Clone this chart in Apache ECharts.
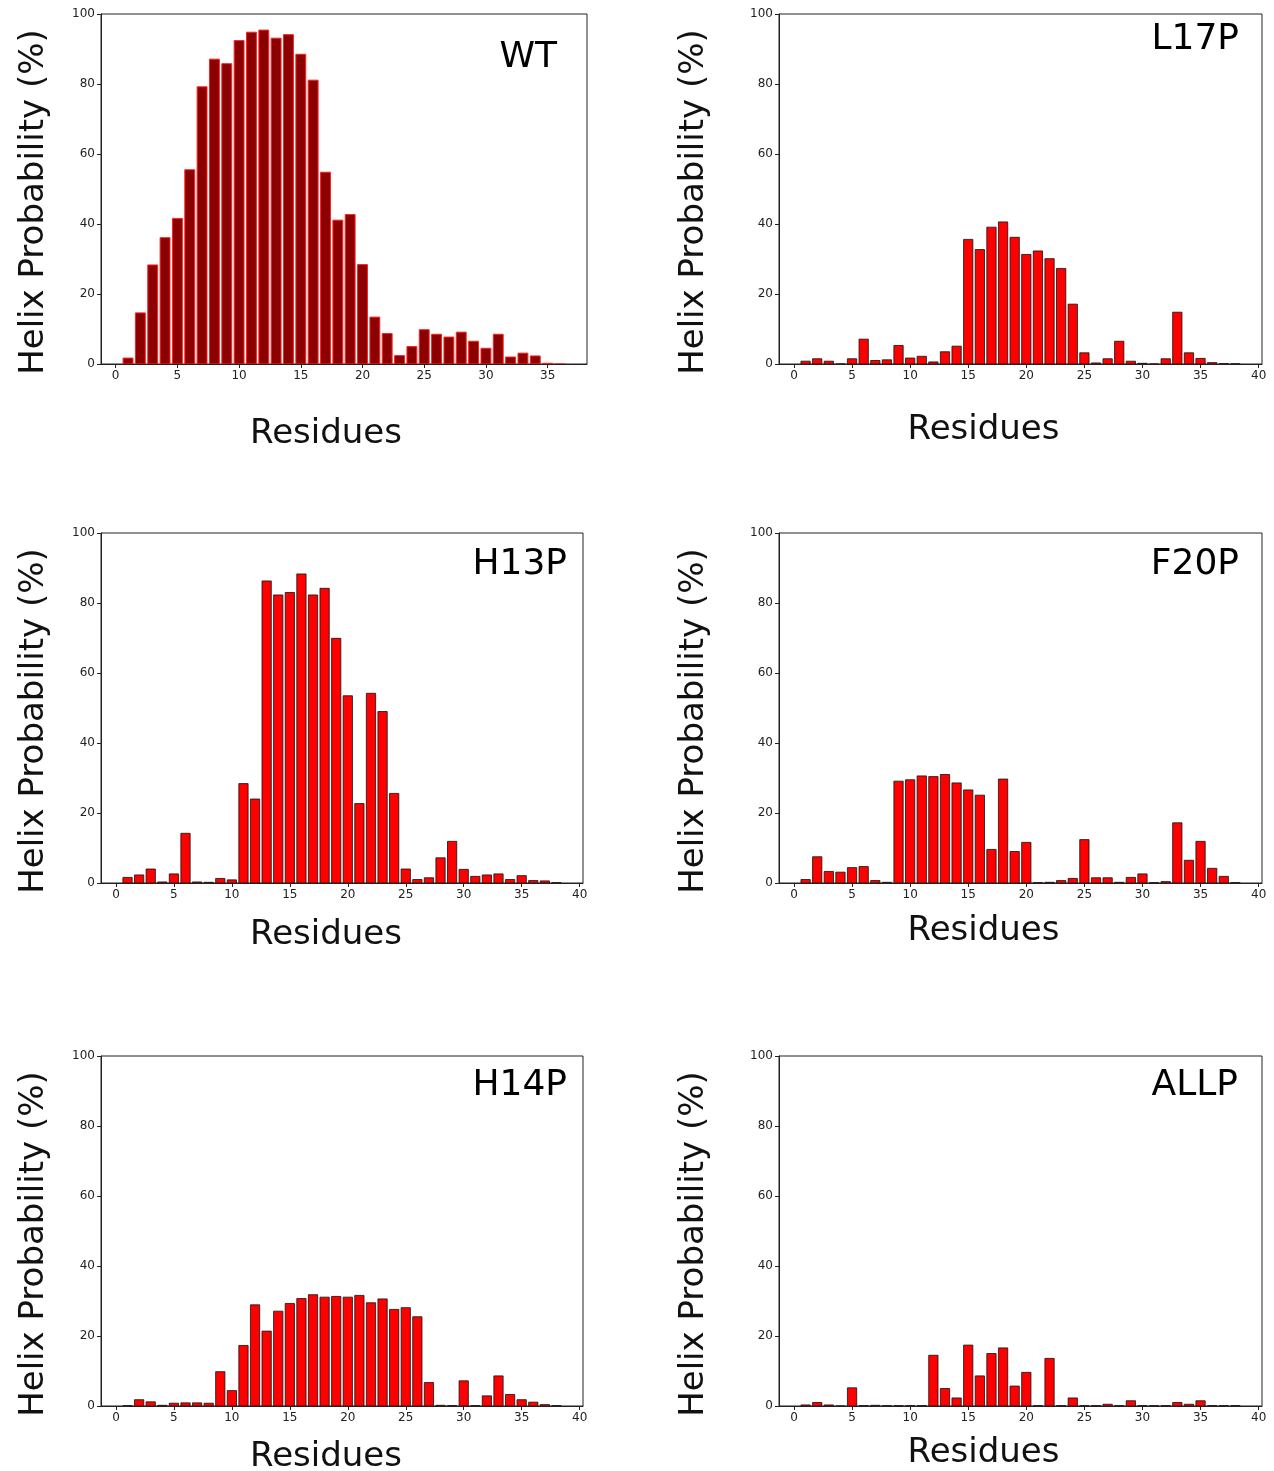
<!DOCTYPE html>
<html>
<head>
<meta charset="utf-8">
<script src="https://cdn.jsdelivr.net/npm/echarts@6/dist/echarts.min.js"></script>
<style>
html,body{margin:0;padding:0;background:#fff;}
#chart{width:1274px;height:1471px;}
</style>
</head>
<body>
<div id="chart"></div>
<script>
// ---- Data ----
const panelNames = ['WT', 'L17P', 'H13P', 'F20P', 'H14P', 'ALLP'];
const residuesWT = [1,2,3,4,5,6,7,8,9,10,11,12,13,14,15,16,17,18,19,20,21,22,23,24,25,26,27,28,29,30,31,32,33,34,35,36];
const residues38 = [1,2,3,4,5,6,7,8,9,10,11,12,13,14,15,16,17,18,19,20,21,22,23,24,25,26,27,28,29,30,31,32,33,34,35,36,37,38];
const xTicksWT = [0,5,10,15,20,25,30,35];
const xTicks38 = [0,5,10,15,20,25,30,35,40];
const yTicks = [0,20,40,60,80,100];

const helixWT = [1.7,14.6,28.3,36.1,41.6,55.5,79.2,87.1,85.8,92.4,94.8,95.4,93.1,94.1,88.5,81.1,54.8,41.1,42.7,28.4,13.4,8.7,2.4,5.0,9.8,8.5,7.7,9.1,6.5,4.5,8.5,2.0,3.1,2.3,0.2,0];
const helixL17P = [0.8,1.5,0.8,0,1.5,7.1,1.0,1.2,5.3,1.7,2.2,0.6,3.5,5.1,35.6,32.7,39.1,40.6,36.2,31.3,32.3,30.1,27.3,17.1,3.2,0.3,1.5,6.5,0.8,0.2,0,1.5,14.8,3.2,1.6,0.4,0.1,0.05];
const helixH13P = [1.6,2.3,4.0,0.3,2.6,14.2,0.3,0.2,1.3,0.9,28.4,24.0,86.3,82.3,83.0,88.3,82.3,84.2,69.9,53.5,22.7,54.2,49.0,25.6,4.0,1.0,1.5,7.2,11.9,3.9,1.9,2.3,2.6,1.0,2.1,0.7,0.6,0.1];
const helixF20P = [1.0,7.5,3.3,3.1,4.4,4.7,0.7,0.2,29.1,29.5,30.6,30.4,31.0,28.6,26.6,25.1,9.6,29.7,9.0,11.6,0.1,0.2,0.7,1.3,12.4,1.5,1.5,0.2,1.6,2.6,0.1,0.4,17.2,6.5,11.9,4.2,1.9,0.1];
const helixH14P = [0.1,1.8,1.2,0.2,0.8,0.9,0.9,0.8,9.8,4.4,17.3,28.9,21.4,27.1,29.3,30.7,31.8,31.1,31.3,31.1,31.6,29.5,30.6,27.6,28.1,25.5,6.7,0.2,0.1,7.2,0.1,2.9,8.6,3.3,1.8,1.1,0.4,0.1];
const helixALLP = [0.3,1.0,0.3,0,5.2,0.1,0.2,0.1,0.1,0.1,0.1,14.5,5.0,2.3,17.4,8.6,15.0,16.6,5.7,9.6,0.1,13.6,0.1,2.3,0.1,0.1,0.5,0.1,1.5,0.1,0.1,0.1,1.0,0.5,1.5,0.1,0.1,0.1];

const xLabel = 'Residues';
const yLabel = 'Helix Probability (%)';

// ---- Layout / style ----
const panels = [
  {name: panelNames[0], x: residuesWT, y: helixWT, ticks: xTicksWT, grid: {left: 101, top: 14, width: 486, height: 350}, fill: '#8b0000', stroke: '#ff2020', lw: 1, nameGapX: 53, shiftX: 18, nameGapY: 50, title: [557, 58]},
  {name: panelNames[1], x: residues38, y: helixL17P, ticks: xTicks38, grid: {left: 779, top: 14, width: 483, height: 350}, fill: '#ff0000', stroke: '#111', lw: 0.8, nameGapX: 49, shiftX: 37, nameGapY: 68, title: [1239, 40]},
  {name: panelNames[2], x: residues38, y: helixH13P, ticks: xTicks38, grid: {left: 101, top: 533, width: 482, height: 350}, fill: '#ff0000', stroke: '#111', lw: 0.8, nameGapX: 35, shiftX: 16, nameGapY: 50, title: [567, 565]},
  {name: panelNames[3], x: residues38, y: helixF20P, ticks: xTicks38, grid: {left: 779, top: 533, width: 483, height: 350}, fill: '#ff0000', stroke: '#111', lw: 0.8, nameGapX: 31, shiftX: 37, nameGapY: 68, title: [1239, 565]},
  {name: panelNames[4], x: residues38, y: helixH14P, ticks: xTicks38, grid: {left: 101, top: 1056, width: 482, height: 350}, fill: '#ff0000', stroke: '#111', lw: 0.8, nameGapX: 34, shiftX: 16, nameGapY: 50, title: [567, 1086]},
  {name: panelNames[5], x: residues38, y: helixALLP, ticks: xTicks38, grid: {left: 779, top: 1056, width: 483, height: 350}, fill: '#ff0000', stroke: '#111', lw: 0.8, nameGapX: 30, shiftX: 37, nameGapY: 68, title: [1238, 1086]}
];

const FONT = 'DejaVu Sans';
const grids = [], xAxes = [], yAxes = [], series = [], graphics = [];

panels.forEach((p, i) => {
  const n = p.x.length;
  const lo0 = p.x[0] - 0.4, hi0 = p.x[n - 1] + 0.4;
  const d = hi0 - lo0;
  const xmin = lo0 - 0.05 * d, xmax = hi0 + 0.05 * d;
  grids.push(Object.assign({show: true, borderColor: '#222', borderWidth: 1, backgroundColor: '#fff', containLabel: false, outerBoundsMode: 'none'}, p.grid));
  xAxes.push({
    gridIndex: i, type: 'value', min: xmin, max: xmax,
    name: xLabel, nameLocation: 'middle', nameGap: p.nameGapX,
    nameTextStyle: {fontFamily: FONT, fontSize: 34, color: '#111', padding: [0, 2 * p.shiftX, 0, 0]},
    axisLine: {show: true, onZero: false, lineStyle: {color: '#222', width: 1}},
    axisTick: {show: true, inside: false, length: 4, customValues: p.ticks, lineStyle: {color: '#222'}},
    axisLabel: {show: true, customValues: p.ticks, margin: 6, fontFamily: FONT, fontSize: 12, color: '#222'},
    splitLine: {show: false}
  });
  yAxes.push({
    gridIndex: i, type: 'value', min: 0, max: 100, interval: 20,
    name: yLabel, nameLocation: 'middle', nameGap: p.nameGapY, nameRotate: 90,
    nameTextStyle: {fontFamily: FONT, fontSize: 34, color: '#111', padding: [0, 26, 0, 0]},
    axisLine: {show: true, onZero: false, lineStyle: {color: '#222', width: 1}},
    axisTick: {show: true, inside: false, length: 4, lineStyle: {color: '#222'}},
    axisLabel: {show: true, margin: 6, fontFamily: FONT, fontSize: 12, color: '#222'},
    splitLine: {show: false}
  });
  const data = p.x.map((r, k) => [r, p.y[k]]);
  series.push({
    type: 'custom', xAxisIndex: i, yAxisIndex: i, data: data, clip: true,
    renderItem: (params, api) => {
      const xv = api.value(0), yv = api.value(1);
      const a = api.coord([xv - 0.4, yv]);
      const b = api.coord([xv + 0.4, 0]);
      return {type: 'rect', shape: {x: a[0], y: a[1], width: b[0] - a[0], height: b[1] - a[1]},
              style: {fill: p.fill, stroke: p.stroke, lineWidth: p.lw}};
    }
  });
  graphics.push({type: 'text', x: p.title[0], y: p.title[1], z: 100,
    style: {text: p.name, fontFamily: FONT, fontSize: 36, fill: '#000', textAlign: 'right', textVerticalAlign: 'middle'}});
});

const chart = echarts.init(document.getElementById('chart'), null, {renderer: 'canvas'});
chart.setOption({
  animation: false,
  backgroundColor: '#fff',
  grid: grids, xAxis: xAxes, yAxis: yAxes, series: series, graphic: graphics
});
</script>
</body>
</html>
